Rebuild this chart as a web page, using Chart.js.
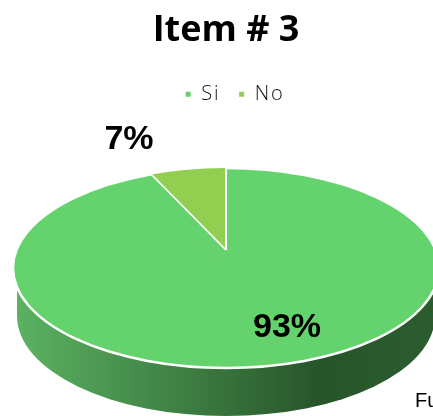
<!DOCTYPE html>
<html>
<head>
<meta charset="utf-8">
<style>
  html, body { margin: 0; padding: 0; background: #fff; overflow: hidden; }
  #wrap { width: 433px; height: 416px; position: relative; }
</style>
<script src="https://cdn.jsdelivr.net/npm/chart.js@4"></script>
</head>
<body>
<div id="wrap"><canvas id="pie"></canvas></div>
<script>
const categories = ['Si', 'No'];
const values = [93, 7];
const titleText = 'Item # 3';
const footText = 'Fu';

const COLORS = ['#65D36D', '#92CF50'];

// geometria del "3D": tapa elíptica, pared inferior y vértice desplazado de la cuña
const TOP = { x: 226, y: 268, rx: 213, ry: 100 };
const WALL = { rx: 209, depth: 48 };
const WEDGE = { x: 226, y: 250, rx: 189, ry: 90 };
const LABEL_POS = [{ x: 287, y: 328 }, { x: 129, y: 140 }];
const LEGEND_SPACING = '2px';

function squash(ctx, arc, box) {
    ctx.translate(box.x, box.y);
    ctx.scale(box.rx / arc.outerRadius, box.ry / arc.outerRadius);
    ctx.translate(-arc.x, -arc.y);
}

function ellipsePath(ctx) {
    ctx.beginPath();
    ctx.ellipse(TOP.x, TOP.y, TOP.rx, TOP.ry, 0, 0, Math.PI * 2);
}

const pie3d = {
    id: 'pie3d',
    beforeLayout(chart) {
        chart.ctx.letterSpacing = '0px';
    },
    afterLayout(chart) {
        // el título y la leyenda no están centrados en el lienzo
        chart.titleBlock.left += 19;
        const legend = chart.legend;
        legend.left += 29;
        if (!legend._spaced) {
            const drawLegend = legend.draw.bind(legend);
            legend.draw = (area) => {
                chart.ctx.letterSpacing = LEGEND_SPACING;
                drawLegend(area);
                chart.ctx.letterSpacing = '0px';
            };
            legend._spaced = true;
        }
    },
    beforeDatasetDraw(chart, args) {
        const ctx = chart.ctx;
        const arcs = args.meta.data;

        // pared
        const left = TOP.x - WALL.rx, right = TOP.x + WALL.rx;
        const grad = ctx.createLinearGradient(left, 0, right, 0);
        grad.addColorStop(0, '#5BB262');
        grad.addColorStop(0.72, '#27552A');
        grad.addColorStop(1, '#2B5C2E');
        ctx.save();
        ctx.fillStyle = grad;
        ctx.beginPath();
        ctx.moveTo(left, TOP.y);
        ctx.lineTo(left, TOP.y + WALL.depth);
        ctx.ellipse(TOP.x, TOP.y + WALL.depth, WALL.rx, TOP.ry, 0, Math.PI, 0, true);
        ctx.lineTo(right, TOP.y);
        ctx.closePath();
        ctx.fill();

        // tapa
        ellipsePath(ctx);
        ctx.fillStyle = COLORS[0];
        ctx.fill();
        ctx.restore();

        ctx.save();
        squash(ctx, arcs[0], TOP);
        arcs[0].draw(ctx);
        ctx.restore();

        ctx.save();
        ellipsePath(ctx);
        ctx.strokeStyle = '#fff';
        ctx.lineWidth = 2.5;
        ctx.stroke();
        ctx.restore();

        ctx.save();
        ellipsePath(ctx);
        ctx.clip();
        squash(ctx, arcs[1], WEDGE);
        arcs[1].draw(ctx);
        ctx.restore();
        return false;
    },
    afterDraw(chart) {
        const ctx = chart.ctx;
        ctx.save();
        ctx.fillStyle = '#000';
        ctx.textAlign = 'center';
        ctx.textBaseline = 'middle';
        ctx.font = 'bold 34px "Liberation Sans"';
        values.forEach((v, i) => {
            ctx.fillText(v + '%', LABEL_POS[i].x, LABEL_POS[i].y);
        });
        ctx.textAlign = 'left';
        ctx.textBaseline = 'alphabetic';
        ctx.font = '20px "Liberation Sans"';
        ctx.fillText(footText, 415, 407);
        ctx.restore();
    },
};

new Chart(document.getElementById('pie').getContext('2d'), {
    type: 'pie',
    data: {
        labels: categories,
        datasets: [{
            data: values,
            backgroundColor: COLORS,
            borderColor: '#fff',
            borderWidth: [0, 1.6],
        }],
    },
    options: {
        responsive: true,
        maintainAspectRatio: false,
        animation: false,
        plugins: {
            title: {
                display: true,
                text: titleText,
                color: '#000',
                font: { family: "'Open Sans'", size: 36, weight: 'bold' },
                padding: { top: 9, bottom: 14 },
            },
            legend: {
                position: 'top',
                labels: {
                    color: '#111',
                    font: { family: "'Open Sans'", size: 20, weight: '300' },
                    usePointStyle: true,
                    pointStyle: 'rect',
                    boxWidth: 6,
                    boxHeight: 5,
                    padding: 18,
                    generateLabels(chart) {
                        return Chart.overrides.pie.plugins.legend.labels.generateLabels(chart)
                            .map(item => ({ ...item, lineWidth: 0 }));
                    },
                },
            },
            tooltip: { enabled: false },
        },
    },
    plugins: [pie3d],
});
</script>
</body>
</html>
